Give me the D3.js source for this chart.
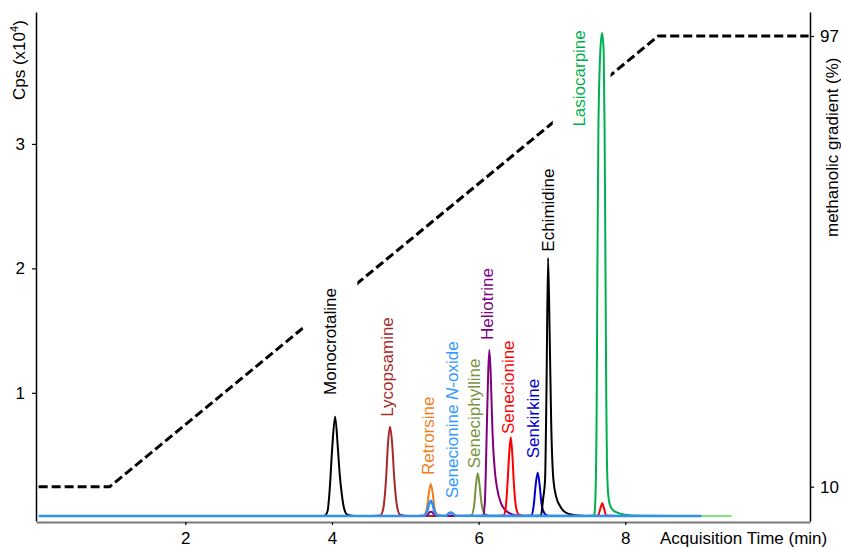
<!DOCTYPE html>
<html><head><meta charset="utf-8">
<script src="https://cdn.jsdelivr.net/npm/d3@7"></script>
<style>
html,body{margin:0;padding:0;background:#fff;}
svg{display:block;font-family:"Liberation Sans",Arial,Helvetica,sans-serif;}
</style></head><body>
<svg id="chart" width="841" height="547"></svg>
<script>
// ---------- DATA (time in min, intensity in Cps x10^4) ----------
const monocrotaline = [[3.80,0.01],[3.90,0.012],[3.94,0.05],[3.965,0.19],[4.005,0.57],[4.043,0.808],[4.08,0.56],[4.105,0.35],[4.133,0.19],[4.17,0.06],[4.21,0.02],[4.30,0.01]];
const lycopsamine = [[4.55,0.01],[4.66,0.015],[4.70,0.07],[4.737,0.30],[4.765,0.60],[4.792,0.728],[4.82,0.60],[4.851,0.30],[4.89,0.08],[4.93,0.02],[5.05,0.01],[5.55,0.01],[5.59,0.025],[5.62,0.035],[5.65,0.025],[5.70,0.01],[5.80,0.01]];
const retrorsine = [[5.15,0.01],[5.25,0.015],[5.29,0.06],[5.32,0.19],[5.347,0.268],[5.375,0.19],[5.40,0.07],[5.44,0.02],[5.55,0.01]];
const seneciphylline = [[5.80,0.01],[5.90,0.015],[5.94,0.10],[5.965,0.27],[5.988,0.354],[6.01,0.27],[6.04,0.11],[6.08,0.03],[6.15,0.01]];
const heliotrine = [[5.20,0.01],[5.30,0.015],[5.33,0.04],[5.35,0.045],[5.37,0.04],[5.40,0.015],[5.50,0.01],[6.00,0.01],[6.06,0.015],[6.085,0.12],[6.11,0.67],[6.13,1.15],[6.146,1.344],[6.165,1.15],[6.19,0.67],[6.22,0.38],[6.25,0.24],[6.30,0.12],[6.38,0.05],[6.47,0.02],[6.60,0.01]];
const senecionine = [[6.25,0.01],[6.34,0.015],[6.37,0.08],[6.392,0.25],[6.418,0.52],[6.438,0.643],[6.458,0.52],[6.483,0.25],[6.51,0.08],[6.55,0.02],[6.65,0.01],[7.55,0.01],[7.63,0.015],[7.66,0.07],[7.687,0.112],[7.71,0.07],[7.74,0.015],[7.85,0.01]];
const senkirkine = [[6.60,0.01],[6.72,0.015],[6.75,0.09],[6.78,0.27],[6.806,0.358],[6.83,0.27],[6.86,0.10],[6.90,0.03],[6.95,0.01]];
const echimidine = [[6.75,0.01],[6.85,0.015],[6.88,0.15],[6.906,0.30],[6.925,1.0],[6.947,2.084],[6.968,1.5],[6.99,0.75],[7.02,0.30],[7.06,0.16],[7.11,0.09],[7.18,0.04],[7.28,0.02],[7.45,0.01]];
const lasiocarpine = [[7.45,0.01],[7.57,0.015],[7.58,0.03],[7.595,0.2],[7.61,0.9],[7.62,2.0],[7.633,3.1],[7.66,3.75],[7.683,3.891],[7.705,3.75],[7.718,3.1],[7.73,2.0],[7.74,1.0],[7.75,0.45],[7.765,0.2],[7.79,0.1],[7.83,0.06],[7.90,0.035],[8.00,0.02],[8.20,0.012],[8.60,0.01]];
const lasiocarpineTail = [[8.60,0.01],[9.45,0.01]];
const senecionineNoxide = [[0.00,0.01],[5.24,0.01],[5.29,0.03],[5.32,0.10],[5.347,0.133],[5.375,0.10],[5.40,0.04],[5.45,0.012],[5.56,0.012],[5.59,0.03],[5.62,0.037],[5.65,0.03],[5.69,0.012],[9.04,0.01]];

// methanolic gradient (%)
const gradientTime = [0, 0.97, 8.45, 10.5];
const gradientPct = [10, 10, 97, 97];
const gradientGaps = [[3.61, 4.346], [7.011, 7.80]];

// peak labels
const labelNames = ["Monocrotaline","Lycopsamine","Retrorsine","Senecionine N-oxide","Seneciphylline","Heliotrine","Senecionine","Senkirkine","Echimidine","Lasiocarpine"];
const labelTime  = [3.974, 4.75, 5.306, 5.633, 5.937, 6.11, 6.405, 6.738, 6.95, 7.373];
const labelLevel = [0.983, 0.808, 0.34, 0.153, 0.394, 1.425, 0.669, 0.474, 2.134, 3.139];

// axis ticks
const xTicks = [2, 4, 6, 8];
const yTicks = [1, 2, 3];
const yRTicks = [10, 97];

// ---------- STYLES ----------
const traceOrder = [
  [monocrotaline, "#000000", 2],
  [lycopsamine, "#a52a2a", 2],
  [retrorsine, "#f07d1e", 2],
  [seneciphylline, "#77933c", 2],
  [heliotrine, "#800080", 2],
  [senecionine, "#ff0000", 2],
  [senkirkine, "#0000cc", 2],
  [echimidine, "#000000", 2],
  [lasiocarpine, "#00b050", 2],
  [lasiocarpineTail, "#5ad65a", 1.6],
  [senecionineNoxide, "#3390ee", 2.6]
];
const labelColors = ["#000000","#a52a2a","#f07d1e","#3399ff","#77933c","#800080","#ff0000","#0000cc","#000000","#00b050"];

// ---------- CHART ----------
const svg = d3.select("#chart");
const x = d3.scaleLinear().domain([-0.036, 10.519]).range([36, 810]);
const y = d3.scaleLinear().domain([-0.03, 4.06]).range([521, 12]);
const yR = d3.scaleLinear().domain([3.379, 101.633]).range([521, 12]);

// gradient line with gaps (mask)
const defs = svg.append("defs");
const mask = defs.append("mask").attr("id", "gapmask").attr("maskUnits", "userSpaceOnUse")
  .attr("x", 0).attr("y", 0).attr("width", 841).attr("height", 547);
mask.append("rect").attr("x", 0).attr("y", 0).attr("width", 841).attr("height", 547).attr("fill", "#fff");
mask.selectAll("rect.gap").data(gradientGaps).join("rect").attr("class", "gap")
  .attr("x", d => x(d[0])).attr("width", d => x(d[1]) - x(d[0]))
  .attr("y", 0).attr("height", 547).attr("fill", "#000");

const gradLine = d3.line().x((d, i) => x(gradientTime[i])).y(d => yR(d));
svg.append("path")
  .attr("d", gradLine(gradientPct))
  .attr("fill", "none").attr("stroke", "#000").attr("stroke-width", 3)
  .attr("stroke-dasharray", "9,4").attr("mask", "url(#gapmask)");

// traces
const line = d3.line().x(d => x(d[0])).y(d => y(d[1])).curve(d3.curveMonotoneX);
traceOrder.forEach(([data, color, w]) => {
  svg.append("path").attr("d", line(data))
    .attr("fill", "none").attr("stroke", color).attr("stroke-width", w)
    .attr("stroke-linejoin", "round");
});

// labels
labelNames.forEach((name, i) => {
  const t = svg.append("text")
    .attr("transform", `translate(${x(labelTime[i])},${y(labelLevel[i])}) rotate(-90)`)
    .attr("dy", "0.35em").attr("text-anchor", "start")
    .attr("font-size", 17).attr("fill", labelColors[i]);
  if (name.includes("N-oxide")) {
    t.append("tspan").text("Senecionine ");
    t.append("tspan").attr("font-style", "italic").text("N");
    t.append("tspan").text("-oxide");
  } else {
    t.text(name);
  }
});

// axes
const gL = svg.append("g").attr("transform", "translate(36,0)")
  .call(d3.axisLeft(y).tickValues(yTicks).tickSize(4).tickSizeOuter(0).tickPadding(7).tickFormat(d3.format("d")));
const gB = svg.append("g").attr("transform", "translate(0,522)")
  .call(d3.axisBottom(x).tickValues(xTicks).tickSize(3).tickSizeOuter(0).tickPadding(7).tickFormat(d3.format("d")));
const gR = svg.append("g").attr("transform", "translate(810,0)")
  .call(d3.axisRight(yR).tickValues(yRTicks).tickSize(4).tickSizeOuter(0).tickPadding(6).tickFormat(d3.format("d")));

[gL, gB, gR].forEach(g => {
  g.selectAll("text").attr("font-size", 17).attr("fill", "#000")
    .attr("font-family", '"Liberation Sans",Arial,Helvetica,sans-serif');
  g.selectAll("line").attr("stroke", "#000").attr("stroke-width", 1.2);
});
gL.select(".domain").attr("stroke", "#000").attr("stroke-width", 1.5);
gR.select(".domain").attr("stroke", "#000").attr("stroke-width", 1.5);
gB.select(".domain").attr("stroke", "#7a7a7a").attr("stroke-width", 2);

// axis titles
svg.append("text").attr("x", 660).attr("y", 544).attr("font-size", 17).attr("fill", "#000")
  .text("Acquisition Time (min)");

const yt = svg.append("text").attr("transform", "translate(19,100) rotate(-90)")
  .attr("dy", "0.35em").attr("font-size", 17).attr("fill", "#000");
yt.append("tspan").text("Cps (x10");
yt.append("tspan").attr("font-size", 11).attr("dy", "-0.6em").text("4");
yt.append("tspan").attr("dy", "0.39em").text(")");

svg.append("text").attr("transform", "translate(832,237) rotate(-90)")
  .attr("dy", "0.35em").attr("font-size", 17).attr("fill", "#000")
  .text("methanolic gradient (%)");
</script>
</body></html>
